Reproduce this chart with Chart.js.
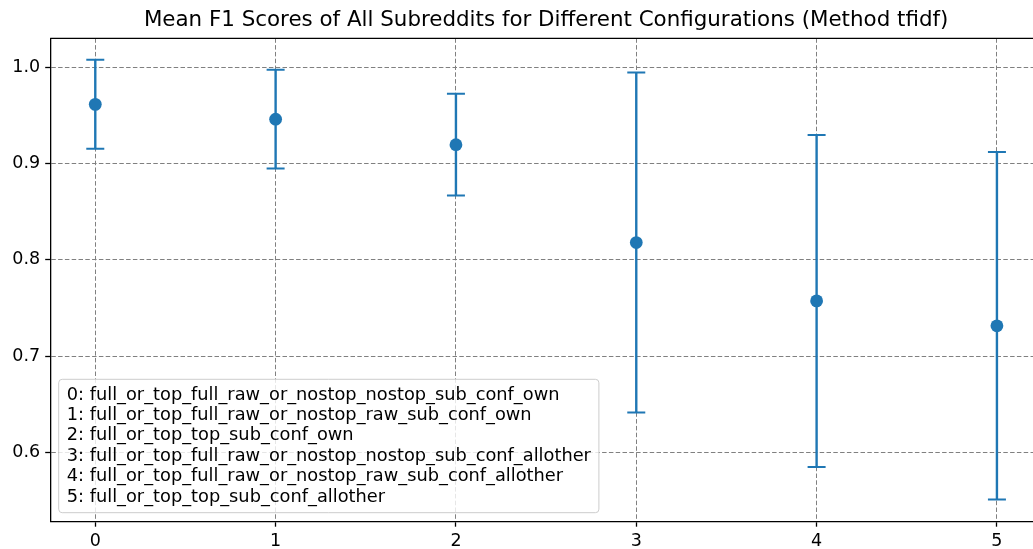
<!DOCTYPE html>
<html>
<head>
<meta charset="utf-8">
<script src="https://cdn.jsdelivr.net/npm/chart.js@4/dist/chart.umd.min.js"></script>
<style>
html,body{margin:0;padding:0;background:#fff;overflow:hidden;width:1033px;height:549px;}
#c{display:block;width:1033px;height:549px;}
</style>
</head>
<body>
<canvas id="c" width="1033" height="549" style="width:1033px;height:549px"></canvas>
<script>
const titleText = 'Mean F1 Scores of All Subreddits for Different Configurations (Method tfidf)';
const configIndex = [0, 1, 2, 3, 4, 5];
const meanScores = [0.9614, 0.9460, 0.9195, 0.8179, 0.7573, 0.7314];
const errorSizes = [0.0462, 0.0513, 0.0528, 0.1766, 0.1724, 0.1804];
const configNames = [
  'full_or_top_full_raw_or_nostop_nostop_sub_conf_own',
  'full_or_top_full_raw_or_nostop_raw_sub_conf_own',
  'full_or_top_top_sub_conf_own',
  'full_or_top_full_raw_or_nostop_nostop_sub_conf_allother',
  'full_or_top_full_raw_or_nostop_raw_sub_conf_allother',
  'full_or_top_top_sub_conf_allother'
];
const xTicks = [0, 1, 2, 3, 4, 5];
const yTicks = [0.6, 0.7, 0.8, 0.9, 1.0];

const BLUE = '#1f77b4';
const FONT = "'DejaVu Sans', sans-serif";

const meanPts = configIndex.map((x, i) => ({x: x, y: meanScores[i]}));
const capPts = [];
const barPts = [];
configIndex.forEach((x, i) => {
  const lo = meanScores[i] - errorSizes[i];
  const hi = meanScores[i] + errorSizes[i];
  capPts.push({x: x, y: lo}, {x: x, y: hi});
  barPts.push({x: x, y: lo}, {x: x, y: hi}, {x: x, y: null});
});

const framePlugin = {
  id: 'frame',
  afterDraw(chart) {
    const ctx = chart.ctx, a = chart.chartArea;
    ctx.save();
    ctx.strokeStyle = '#000';
    ctx.lineWidth = 1.3;
    ctx.beginPath();
    ctx.moveTo(a.left, a.top);
    ctx.lineTo(a.right, a.top);
    ctx.stroke();
    ctx.fillStyle = '#000';
    ctx.font = '21.4px ' + FONT;
    ctx.textAlign = 'center';
    ctx.textBaseline = 'middle';
    // centre of the full axes (-0.25..5.25); the axes run past the visible page edge
    ctx.fillText(titleText, chart.scales.x.getPixelForValue(2.5), 20);
    ctx.font = '17.8px ' + FONT;
    const lines = configNames.map((n, i) => configIndex[i] + ': ' + n);
    let maxW = 0;
    lines.forEach(l => { maxW = Math.max(maxW, ctx.measureText(l).width); });
    const lh = 20.4;
    const bx = a.left + 8.5;
    const bw = maxW + 16;
    const bh = lines.length * lh + 11;
    const by = a.bottom - 9 - bh;
    const r = 3.5;
    ctx.beginPath();
    ctx.moveTo(bx + r, by);
    ctx.lineTo(bx + bw - r, by);
    ctx.quadraticCurveTo(bx + bw, by, bx + bw, by + r);
    ctx.lineTo(bx + bw, by + bh - r);
    ctx.quadraticCurveTo(bx + bw, by + bh, bx + bw - r, by + bh);
    ctx.lineTo(bx + r, by + bh);
    ctx.quadraticCurveTo(bx, by + bh, bx, by + bh - r);
    ctx.lineTo(bx, by + r);
    ctx.quadraticCurveTo(bx, by, bx + r, by);
    ctx.closePath();
    ctx.fillStyle = 'rgba(255,255,255,0.8)';
    ctx.fill();
    ctx.strokeStyle = '#cccccc';
    ctx.lineWidth = 1;
    ctx.stroke();
    ctx.fillStyle = '#000';
    ctx.textAlign = 'left';
    ctx.textBaseline = 'middle';
    lines.forEach((l, i) => {
      ctx.fillText(l, bx + 8, by + 5.5 + lh / 2 + i * lh);
    });
    ctx.restore();
  }
};

new Chart(document.getElementById('c'), {
  type: 'scatter',
  data: {
    datasets: [
      {
        label: 'mean',
        data: meanPts,
        backgroundColor: BLUE,
        borderColor: BLUE,
        borderWidth: 0,
        pointRadius: 6.4,
        pointHoverRadius: 6.4,
        order: 0
      },
      {
        label: 'err',
        data: barPts,
        showLine: true,
        spanGaps: false,
        borderColor: BLUE,
        borderWidth: 2.4,
        pointRadius: 0,
        pointHoverRadius: 0,
        order: 2
      },
      {
        label: 'caps',
        data: capPts,
        pointStyle: 'line',
        pointRadius: 9,
        pointHoverRadius: 9,
        borderColor: BLUE,
        pointBorderWidth: 2,
        borderWidth: 2,
        order: 1
      }
    ]
  },
  options: {
    responsive: false,
    animation: false,
    events: [],
    devicePixelRatio: 1,
    layout: {autoPadding: false, padding: {top: 38.3, right: 0, left: 0, bottom: 0}},
    plugins: {legend: {display: false}, title: {display: false}, tooltip: {enabled: false}},
    scales: {
      x: {
        type: 'linear',
        min: -0.25,
        max: 5.2,
        afterBuildTicks(s) { s.ticks = xTicks.map(v => ({value: v})); },
        afterFit(s) { s.height = 27.3; s.paddingLeft = 0; s.paddingRight = 0; },
        ticks: {
          color: '#000',
          font: {family: FONT, size: 17.5},
          padding: 4.5,
          maxRotation: 0,
          callback: v => String(v)
        },
        grid: {
          color: '#808080',
          lineWidth: 1,
          tickLength: 5,
          tickColor: '#000',
          tickWidth: 1.3
        },
        border: {display: true, color: '#000', width: 1.3, dash: [4.5, 2.3]}
      },
      y: {
        type: 'linear',
        min: 0.528,
        max: 1.030,
        afterBuildTicks(s) { s.ticks = yTicks.map(v => ({value: v})); },
        afterFit(s) { s.width = 50.2; s.paddingTop = 0; s.paddingBottom = 0; },
        ticks: {
          color: '#000',
          font: {family: FONT, size: 17.5},
          padding: 5,
          callback: v => Number(v).toFixed(1)
        },
        grid: {
          color: '#808080',
          lineWidth: 1,
          tickLength: 5,
          tickColor: '#000',
          tickWidth: 1.3
        },
        border: {display: true, color: '#000', width: 1.3, dash: [4.5, 2.3]}
      }
    }
  },
  plugins: [framePlugin]
});
</script>
</body>
</html>
